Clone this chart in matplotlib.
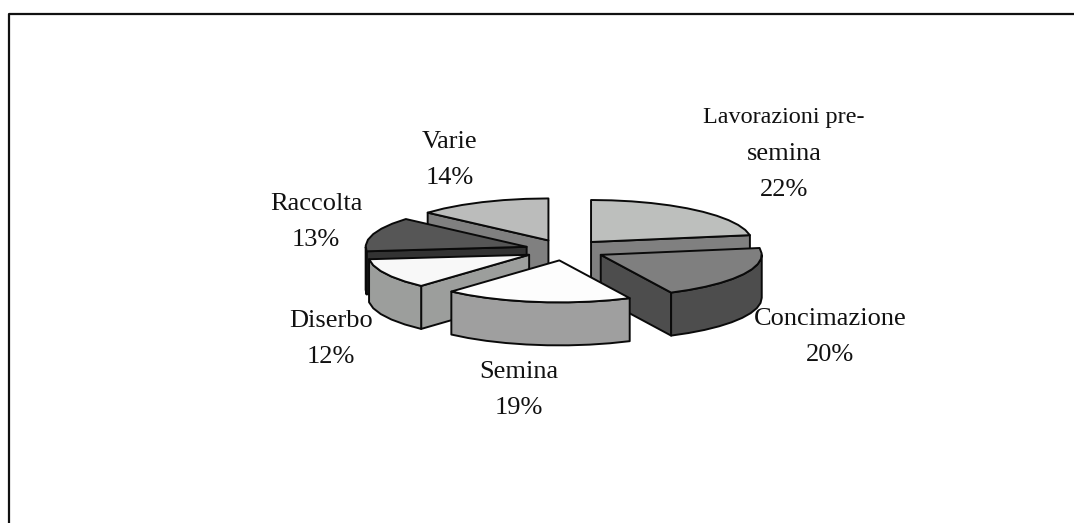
import numpy as np
import matplotlib
matplotlib.use('Agg')
import matplotlib.pyplot as plt
from matplotlib.patches import Polygon

categories = ['Lavorazioni pre-\nsemina', 'Concimazione', 'Semina', 'Diserbo', 'Raccolta', 'Varie']
# read from the slice corners, the printed labels are these rounded
shares = [22.4, 20.4, 18.9, 11.6, 13.2, 13.5]
top_colors = ['#bdbfbd', '#7f7f7f', '#fdfdfd', '#f8f8f8', '#565656', '#bbbcbb']
side_colors = ['#808080', '#4d4d4d', '#9f9f9f', '#9c9e9c', '#333333', '#808080']
label_pos = [(784, 154), (830, 337), (519, 390), (331, 339), (316, 222), (450, 160)]
draw_order = [5, 0, 4, 1, 3, 2]

CX, CY = 565, 250
RX, RY = 161, 42
DEPTH = 43
EXPLODE = 0.25
LW = 1.4
EDGE = '#0a0a0a'
LINE_STEP = 36


def rim(cx, cy, deg):
    # angles run clockwise from north
    rad = np.radians(np.asarray(deg, dtype=float))
    return np.column_stack([cx + RX * np.sin(rad), cy - RY * np.cos(rad)])


def draw_slice(ax, start, end, top, side):
    mid = np.radians((start + end) / 2)
    cx = CX + EXPLODE * RX * np.sin(mid)
    cy = CY - EXPLODE * RY * np.cos(mid)
    down = np.array([0, DEPTH])
    apex = np.array([[cx, cy]])
    steps = max(int((end - start) / 7), 2)
    arc = rim(cx, cy, np.linspace(start, end, steps + 1))

    # only the cut faces turned to the viewer
    cuts = []
    if np.sin(np.radians(start)) < -1e-6:
        cuts.append(arc[0])
    if np.sin(np.radians(end)) > 1e-6:
        cuts.append(arc[-1])
    for edge in cuts:
        quad = np.vstack([apex, [edge], [edge + down], apex + down])
        ax.add_patch(Polygon(quad, fc=side, ec=EDGE, lw=LW, joinstyle='round'))

    a, b = max(start, 90), min(end, 270)
    if a < b:
        front = rim(cx, cy, np.linspace(a, b, max(int((b - a) / 7), 1) + 1))
        wall = np.vstack([front, (front + down)[::-1]])
        ax.add_patch(Polygon(wall, fc=side, ec=EDGE, lw=LW, joinstyle='round'))

    ax.add_patch(Polygon(np.vstack([apex, arc]), fc=top, ec=EDGE, lw=LW, joinstyle='round'))


fig = plt.figure(figsize=(10.74, 5.23), dpi=100)
ax = fig.add_axes([0, 0, 1, 1])
ax.set_xlim(0, 1074)
ax.set_ylim(523, 0)
ax.axis('off')

ax.plot([8.5, 8.5, 1074], [523, 14, 14], color='#111111', lw=1.6)

bounds = np.cumsum([0] + shares) / sum(shares) * 360
for i in draw_order:
    draw_slice(ax, bounds[i], bounds[i + 1], top_colors[i], side_colors[i])

for name, share, (x, y) in zip(categories, shares, label_pos):
    lines = f'{name}\n{share:.0f}%'.split('\n')
    first_y = y - LINE_STEP * (len(lines) - 1) / 2
    for k, line in enumerate(lines):
        # the long line sits tighter in the original
        size = 17.4 if len(line) > 14 else 19
        ax.text(x, first_y + k * LINE_STEP, line, ha='center', va='center',
                family='Liberation Serif', fontsize=size, color='#111111')

fig.savefig('out.png', dpi=100)
